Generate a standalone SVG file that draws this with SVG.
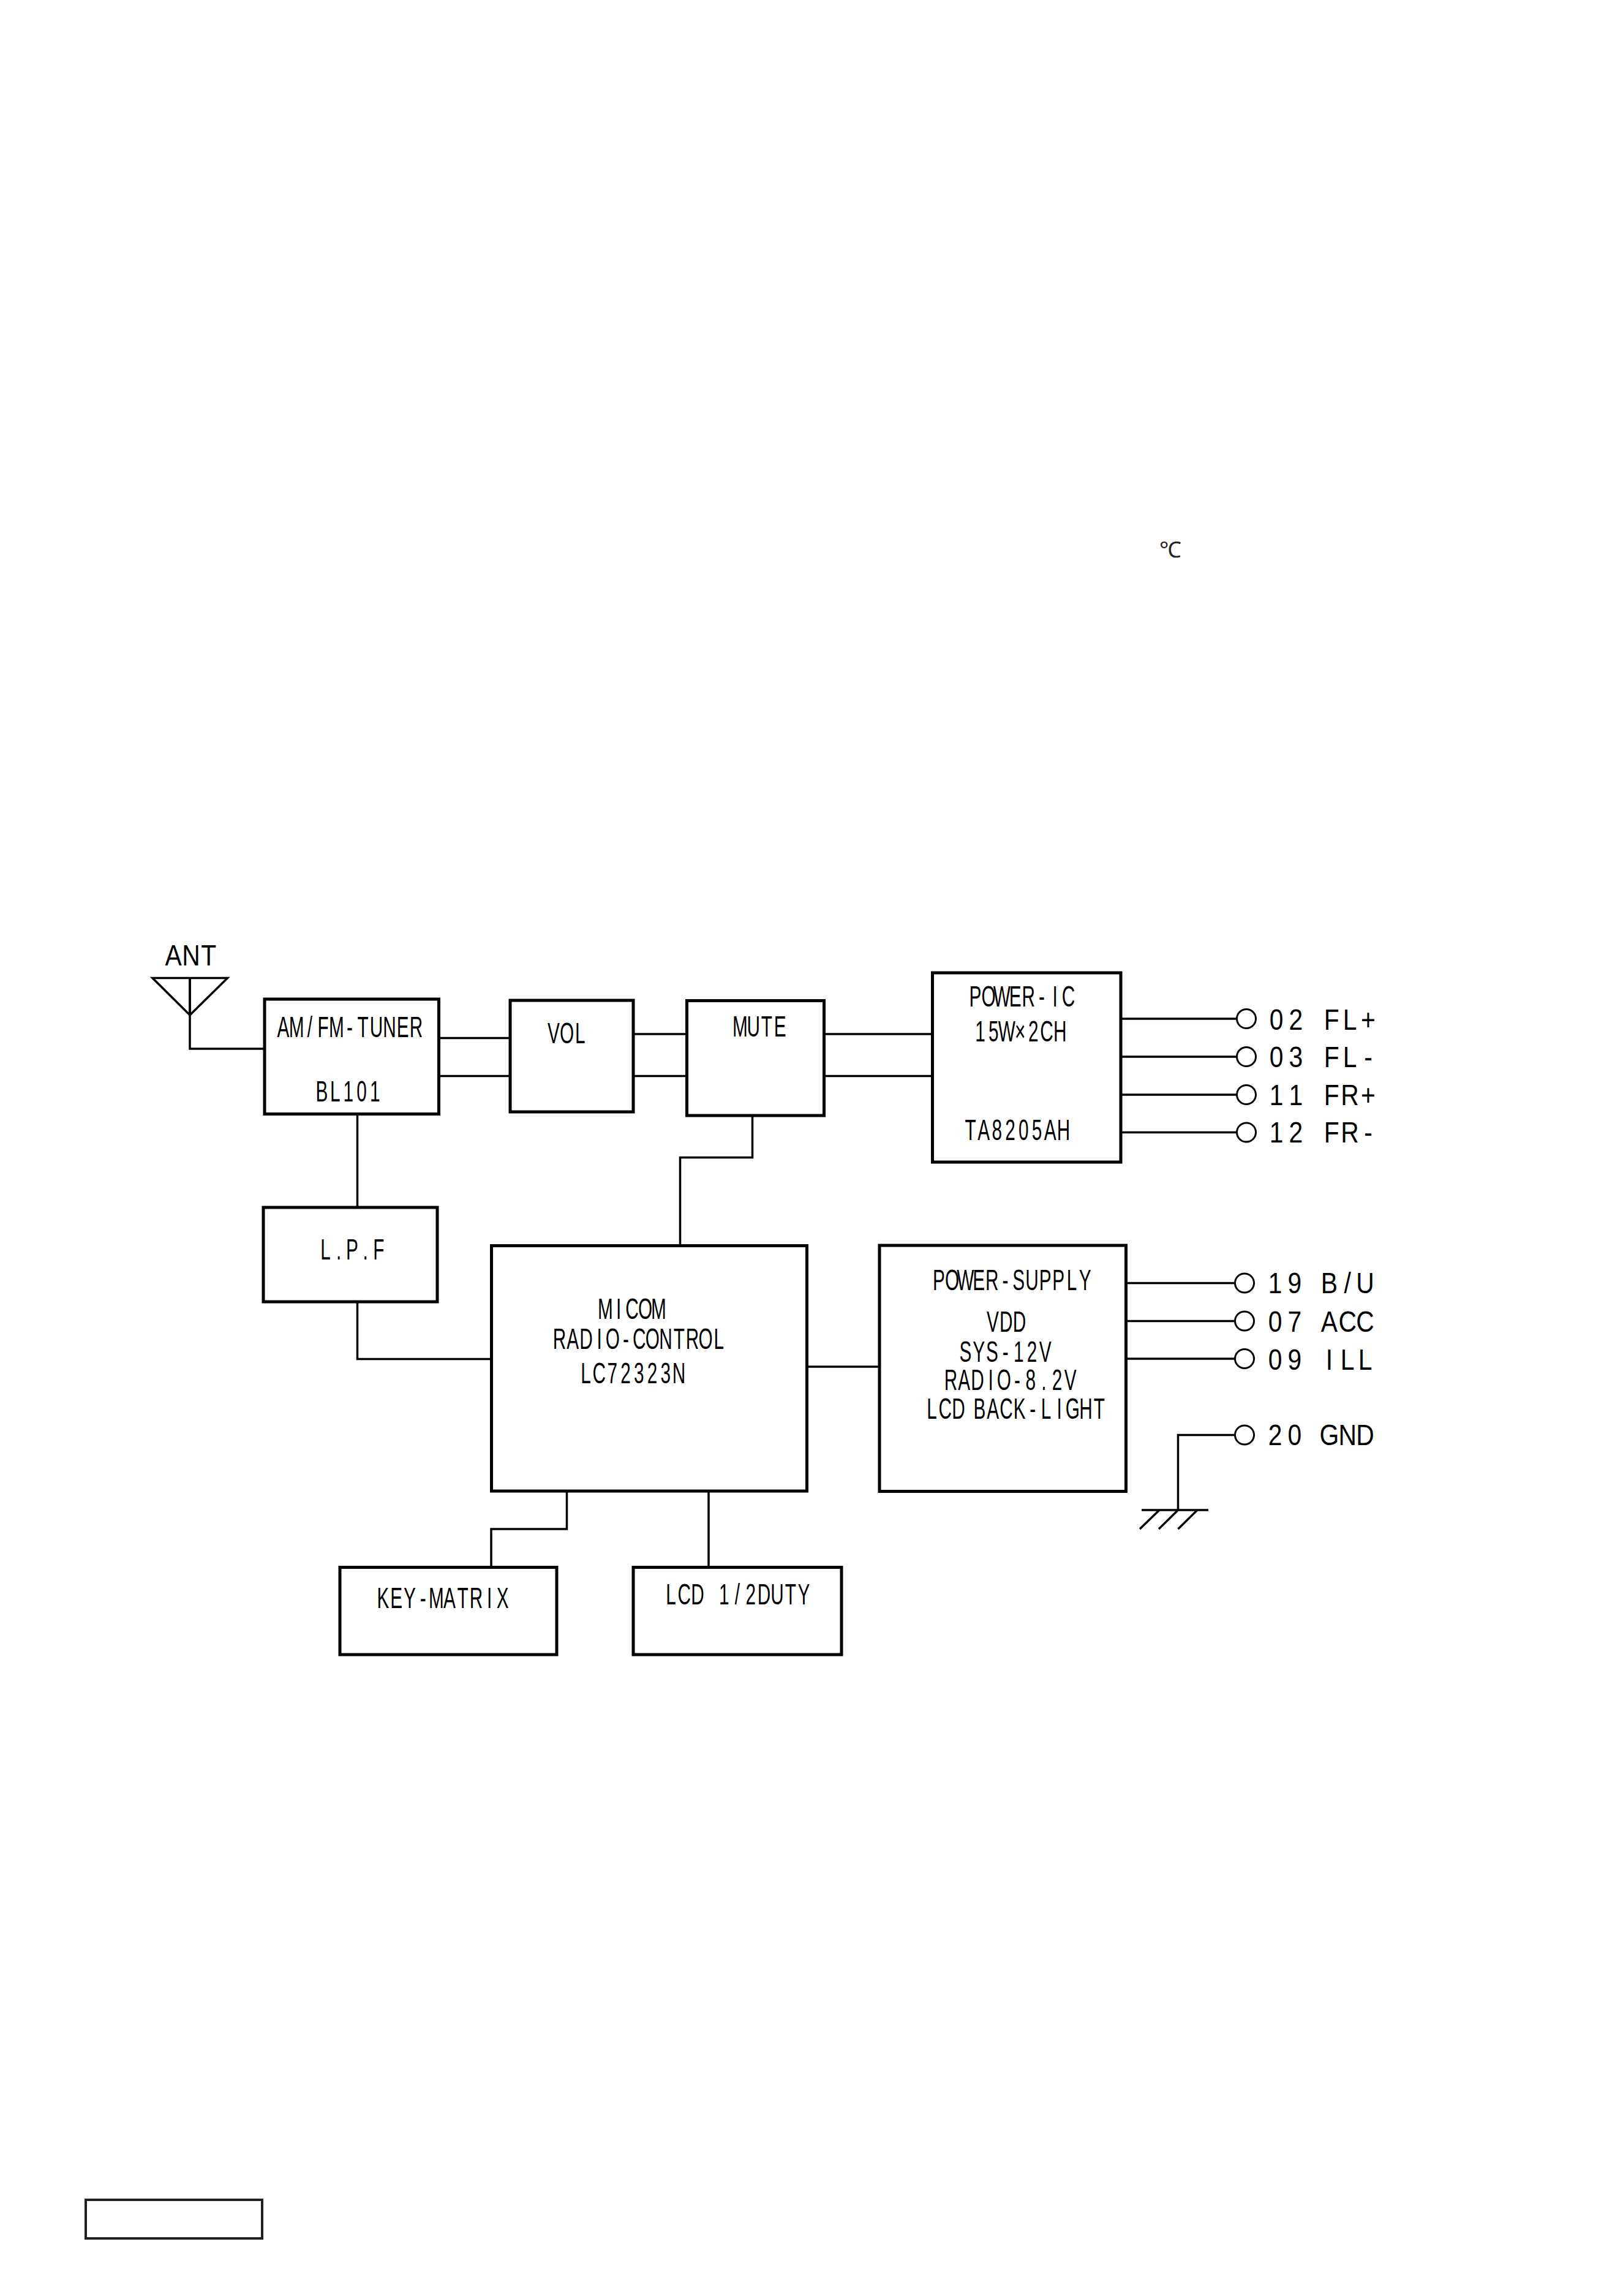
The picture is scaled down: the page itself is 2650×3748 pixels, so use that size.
<svg xmlns="http://www.w3.org/2000/svg" width="2650" height="3748" viewBox="0 0 2650 3748">
<style>
.b{fill:none;stroke:#000;stroke-width:5}
.c{fill:none;stroke:#000;stroke-width:3.5}
.p{fill:#fff;stroke:#000;stroke-width:3}
.t,.l{font-family:"Liberation Sans",Arial,sans-serif;font-size:48px;fill:#000;text-anchor:middle}
</style>
<rect width="2650" height="3748" fill="#fff"/>
<g id="connectors">
<path class="c" d="M310 1596.5V1712H432"/>
<path class="c" d="M716 1694.5H833M716 1756.5H833M1034 1688H1121M1034 1756.5H1121M1345 1688H1522M1345 1756.5H1522"/>
<path class="c" d="M583.500 1819V1971M583.500 2125V2218.500H803"/>
<path class="c" d="M1228.500 1821V1889.500H1110.500V2034"/>
<path class="c" d="M925.500 2434V2496H802V2558M1157 2434V2558M1316 2231H1435"/>
<path class="c" d="M1830 1663H2020M1830 1725H2020M1830 1787H2020M1830 1848.500H2020"/>
<path class="c" d="M1838 2094.500H2017M1838 2156.500H2017M1838 2218H2017M2017 2342.500H1923.500V2465"/>
</g>
<g id="ant">
<path class="c" d="M249 1596.500H371.500L310 1657ZM310 1596.500V1657"/>
<text class="l" transform="translate(283 1576) scale(.85 1)" x="0 34 68">ANT</text>
</g>
<g id="tuner"><rect class="b" x="432" y="1631" width="284.500" height="187.500"/>
<text class="t" transform="translate(462.500 1692.500) scale(.62 1)" x="0 35 70 105 140 175 210 245 280 315 350">AM/FM-TUNER</text>
<text class="t" transform="translate(525.500 1798) scale(.62 1)" x="0 35 70 105 140">BL101</text></g>
<g id="vol"><rect class="b" x="833" y="1633" width="201" height="182"/>
<text class="t" transform="translate(904 1702.500) scale(.62 1)" x="0 35 70">VOL</text></g>
<g id="mute"><rect class="b" x="1121.500" y="1633.500" width="224" height="187.500"/>
<text class="t" transform="translate(1208.500 1692) scale(.62 1)" x="0 35 70 105">MUTE</text></g>
<g id="power-ic"><rect class="b" x="1522.500" y="1588" width="307.500" height="309"/>
<text class="t" transform="translate(1592.500 1643) scale(.62 1)" x="0 35 70 105 140 175 210 245">POWER-IC</text>
<text class="t" transform="translate(1600.500 1700) scale(.62 1)" x="0 35 70 105 140 175 210">15W×2CH</text>
<text class="t" transform="translate(1584.500 1860.500) scale(.62 1)" x="0 35 70 105 140 175 210 245">TA8205AH</text></g>
<g id="lpf"><rect class="b" x="430" y="1971" width="284" height="154"/>
<text class="t" transform="translate(531.500 2055.500) scale(.62 1)" x="0 35 70 105 140">L.P.F</text></g>
<g id="micom"><rect class="b" x="802.500" y="2033.500" width="515" height="400.500"/>
<text class="t" transform="translate(988.500 2152.500) scale(.62 1)" x="0 35 70 105 140">MICOM</text>
<text class="t" transform="translate(913.500 2202) scale(.62 1)" x="0 35 70 105 140 175 210 245 280 315 350 385 420">RADIO-CONTROL</text>
<text class="t" transform="translate(956.500 2258) scale(.62 1)" x="0 35 70 105 140 175 210 245">LC72323N</text></g>
<g id="power-supply"><rect class="b" x="1436" y="2033" width="402.500" height="401.500"/>
<text class="t" transform="translate(1533 2106) scale(.62 1)" x="0 35 70 105 140 175 210 245 280 315 350 385">POWER-SUPPLY</text>
<text class="t" transform="translate(1621 2173.500) scale(.62 1)" x="0 35 70">VDD</text>
<text class="t" transform="translate(1576.500 2223) scale(.62 1)" x="0 35 70 105 140 175 210">SYS-12V</text>
<text class="t" transform="translate(1552.500 2269) scale(.62 1)" x="0 35 70 105 140 175 210 245 280 315">RADIO-8.2V</text>
<text class="t" transform="translate(1521.500 2316) scale(.62 1)" x="0 35 70 96.500 125.800 160.800 195.800 230.800 265.800 300.800 335.800 370.800 405.800 440.800">LCD BACK-LIGHT</text></g>
<g id="key-matrix"><rect class="b" x="555" y="2558.500" width="354" height="142.500"/>
<text class="t" transform="translate(625.500 2624.500) scale(.62 1)" x="0 35 70 105 140 175 210 245 280 315">KEY-MATRIX</text></g>
<g id="lcd"><rect class="b" x="1034" y="2558.500" width="340" height="142.500"/>
<text class="t" transform="translate(1095.500 2618.500) scale(.62 1)" x="0 35 70 105 140 175 210 245 280 315 350">LCD 1/2DUTY</text></g>
<g id="pin-02"><circle class="p" cx="2035" cy="1663" r="15.500"/><text class="l" transform="translate(2084 1680.500) scale(.85 1)" x="0 37.500 69 106 141.200 176.500">02 FL+</text></g>
<g id="pin-03"><circle class="p" cx="2035" cy="1725" r="15.500"/><text class="l" transform="translate(2084 1742) scale(.85 1)" x="0 37.500 69 106 141.200 176.500">03 FL-</text></g>
<g id="pin-11"><circle class="p" cx="2035" cy="1787" r="15.500"/><text class="l" transform="translate(2084 1803.500) scale(.85 1)" x="0 37.500 69 106 141.200 176.500">11 FR+</text></g>
<g id="pin-12"><circle class="p" cx="2035" cy="1848.500" r="15.500"/><text class="l" transform="translate(2084 1865) scale(.85 1)" x="0 37.500 69 106 141.200 176.500">12 FR-</text></g>
<g id="pin-19"><circle class="p" cx="2032" cy="2094.500" r="15.500"/><text class="l" transform="translate(2082 2111) scale(.85 1)" x="0 37.500 69 104 139 173">19 B/U</text></g>
<g id="pin-07"><circle class="p" cx="2032" cy="2156.500" r="15.500"/><text class="l" transform="translate(2082 2173.500) scale(.85 1)" x="0 37.500 69 104 139 173">07 ACC</text></g>
<g id="pin-09"><circle class="p" cx="2032" cy="2218" r="15.500"/><text class="l" transform="translate(2082 2235.500) scale(.85 1)" x="0 37.500 69 104 139 173">09 ILL</text></g>
<g id="pin-20"><circle class="p" cx="2032" cy="2342.500" r="15.500"/><text class="l" transform="translate(2082 2359) scale(.85 1)" x="0 37.500 69 104 139 173">20 GND</text></g>
<g id="ground"><path class="c" d="M1864 2465H1973M1893 2465L1861 2496M1923.500 2465L1892 2496M1955 2465L1923.500 2496"/></g>
<text id="celsius" x="1893" y="910" style="font-family:'Liberation Sans',sans-serif;font-size:36px;fill:#231f20;letter-spacing:-3px">℃</text>
<rect id="frame" x="140" y="3591" width="288" height="63" fill="none" stroke="#231f20" stroke-width="4"/>
</svg>
